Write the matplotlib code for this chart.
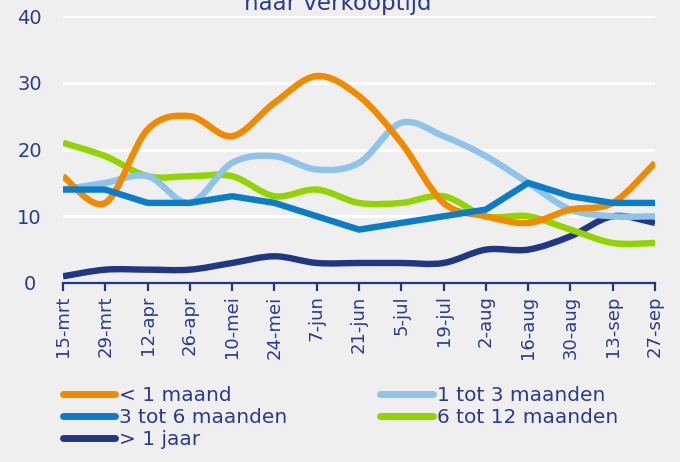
import matplotlib
matplotlib.use("Agg")
import matplotlib.pyplot as plt
from matplotlib.path import Path
from matplotlib.patches import PathPatch
from matplotlib.lines import Line2D

# data
datums = ["15-mrt", "29-mrt", "12-apr", "26-apr", "10-mei", "24-mei", "7-jun",
          "21-jun", "5-jul", "19-jul", "2-aug", "16-aug", "30-aug", "13-sep", "27-sep"]
minder_1_maand = [16, 12, 23, 25, 22, 27, 31, 28, 21, 12, 10, 9, 11, 12, 18]
tot_3_maanden = [14, 15, 16, 12, 18, 19, 17, 18, 24, 22, 19, 15, 11, 10, 10]
tot_6_maanden = [14, 14, 12, 12, 13, 12, 10, 8, 9, 10, 11, 15, 13, 12, 12]
tot_12_maanden = [21, 19, 16, 16, 16, 13, 14, 12, 12, 13, 10, 10, 8, 6, 6]
meer_1_jaar = [1, 2, 2, 2, 3, 4, 3, 3, 3, 3, 5, 5, 7, 10, 9]

bg = "#efefef"
tekst = "#2b3a8c"
kleuren = {
    "oranje": "#f28a00",
    "lichtblauw": "#8fc3ea",
    "blauw": "#0b7dc8",
    "groen": "#92d400",
    "donker": "#213684",
}
lw = 4.6


def smooth_line(ax, ys, color, smooth=True):
    xs = list(range(len(ys)))
    pts = list(zip(xs, ys))
    if not smooth:
        ax.plot(xs, ys, color=color, lw=lw, solid_capstyle="butt", solid_joinstyle="round")
        return
    # bezier door de punten (zoals excel "vloeiende lijn")
    verts = [pts[0]]
    codes = [Path.MOVETO]
    n = len(pts)
    for i in range(n - 1):
        p0 = pts[max(i - 1, 0)]
        p1 = pts[i]
        p2 = pts[i + 1]
        p3 = pts[min(i + 2, n - 1)]
        c1 = (p1[0] + (p2[0] - p0[0]) / 6, p1[1] + (p2[1] - p0[1]) / 6)
        c2 = (p2[0] - (p3[0] - p1[0]) / 6, p2[1] - (p3[1] - p1[1]) / 6)
        verts += [c1, c2, p2]
        codes += [Path.CURVE4] * 3
    patch = PathPatch(Path(verts, codes), fill=False, edgecolor=color, lw=lw,
                      capstyle="butt", joinstyle="round")
    ax.add_patch(patch)


fig = plt.figure(figsize=(6.8, 4.62), dpi=100, facecolor=bg)
ax = fig.add_axes([63 / 680, 1 - 283 / 462, (655 - 63) / 680, (283 - 16) / 462])
ax.set_facecolor(bg)

ax.set_xlim(0, len(datums) - 1)
ax.set_ylim(0, 40)
ax.set_yticks([0, 10, 20, 30, 40])
for y in [10, 20, 30, 40]:
    ax.axhline(y, color="white", lw=2, zorder=0)

smooth_line(ax, meer_1_jaar, kleuren["donker"])
smooth_line(ax, tot_12_maanden, kleuren["groen"])
smooth_line(ax, tot_6_maanden, kleuren["blauw"], smooth=False)
smooth_line(ax, tot_3_maanden, kleuren["lichtblauw"])
smooth_line(ax, minder_1_maand, kleuren["oranje"])

for s in ["left", "right", "top"]:
    ax.spines[s].set_visible(False)
ax.spines["bottom"].set_color(kleuren["donker"])
ax.spines["bottom"].set_linewidth(1.6)
ax.spines["bottom"].set_clip_on(False)

ax.set_xticks(range(len(datums)))
ax.set_xticklabels(datums, rotation=90, fontsize=13, color=tekst)
ax.tick_params(axis="x", length=6, width=1.6, color=kleuren["donker"], pad=3)
ax.tick_params(axis="y", length=0, labelsize=14, labelcolor=tekst, pad=24)
for lab in ax.get_yticklabels():
    lab.set_horizontalalignment("center")

# titel valt in het origineel half buiten beeld
fig.text(0.497, 1 - 10 / 462, "naar verkooptijd", ha="center", va="baseline",
         fontsize=16.5, color=tekst)

handles = [
    Line2D([], [], color=kleuren["oranje"], lw=5, solid_capstyle="round"),
    Line2D([], [], color=kleuren["blauw"], lw=5, solid_capstyle="round"),
    Line2D([], [], color=kleuren["donker"], lw=5, solid_capstyle="round"),
    Line2D([], [], color=kleuren["lichtblauw"], lw=5, solid_capstyle="round"),
    Line2D([], [], color=kleuren["groen"], lw=5, solid_capstyle="round"),
]
labels = ["< 1 maand", "3 tot 6 maanden", "> 1 jaar", "1 tot 3 maanden", "6 tot 12 maanden"]
leg = fig.legend(handles, labels, ncol=2, loc="upper left",
                 bbox_to_anchor=(53 / 680, 1 - 376 / 462), frameon=False,
                 fontsize=14.5, handlelength=2.6, handletextpad=0.2,
                 columnspacing=4.6, labelspacing=0.15, borderpad=0)
for t in leg.get_texts():
    t.set_color(tekst)

fig.savefig("out.png", dpi=100, facecolor=bg)
